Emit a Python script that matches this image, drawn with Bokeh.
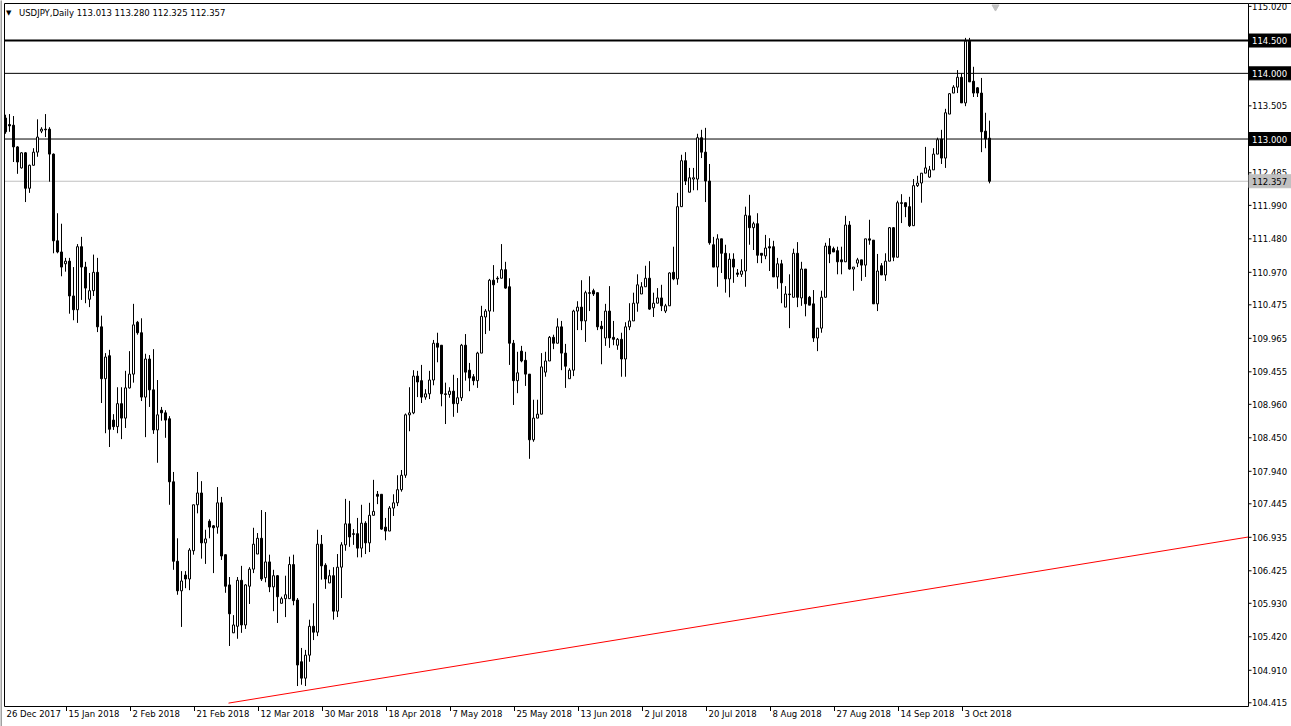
from bokeh.plotting import figure
from bokeh.models import Range1d, ColumnDataSource
from bokeh.core.properties import value
from bokeh.embed import file_html
from bokeh.resources import INLINE

symbol_title = "USDJPY,Daily"
last_ohlc = ["113.013", "113.280", "112.325", "112.357"]

opens = [113.32, 113.22, 113.21, 112.88, 112.56, 112.79, 112.25, 112.60, 112.80, 113.12,
         113.15, 113.15, 112.77, 111.45, 111.28, 111.10, 111.14, 110.61, 110.40, 111.36,
         111.05, 110.56, 110.69, 110.97, 110.14, 109.35, 109.70, 108.72, 108.62, 108.97,
         108.75, 109.21, 109.42, 110.21, 110.05, 109.07, 109.65, 109.18, 108.57, 108.87,
         108.83, 108.74, 107.78, 106.57, 106.12, 106.36, 106.30, 106.73, 107.43, 107.61,
         106.85, 107.18, 107.11, 107.09, 107.46, 106.67, 106.21, 105.48, 105.58, 106.28,
         105.60, 106.19, 106.45, 106.68, 106.92, 106.32, 106.56, 106.18, 106.35, 105.93,
         106.00, 106.00, 106.52, 105.98, 105.04, 104.79, 105.14, 105.58, 105.49, 106.83,
         106.51, 106.24, 106.35, 105.81, 106.48, 106.82, 107.14, 106.99, 106.99, 106.77,
         107.15, 106.85, 107.27, 107.59, 107.59, 107.09, 107.03, 107.38, 107.46, 107.66,
         107.88, 108.80, 108.83, 109.39, 109.32, 109.07, 109.12, 109.33, 109.89, 109.86,
         109.12, 109.11, 109.16, 108.97, 109.06, 109.86, 109.48, 109.38, 109.32, 109.74,
         110.29, 110.38, 110.85, 110.88, 110.88, 111.01, 110.75, 109.89, 109.32, 109.77,
         109.63, 109.42, 108.42, 108.75, 108.81, 109.45, 109.62, 109.98, 109.89, 110.14,
         109.74, 109.35, 109.48, 110.38, 110.44, 110.23, 110.66, 110.69, 110.66, 110.15,
         109.97, 110.38, 109.98, 109.86, 109.95, 109.65, 110.14, 110.23, 110.50, 110.64,
         110.75, 110.88, 110.43, 110.50, 110.58, 110.38, 110.46, 110.97, 110.87, 111.97,
         112.67, 112.19, 112.39, 112.39, 113.02, 112.80, 112.36, 111.39, 111.05, 111.48,
         111.26, 110.87, 111.17, 110.96, 110.94, 110.99, 111.83, 111.65, 111.71, 111.26,
         111.22, 111.36, 111.36, 110.90, 111.10, 110.44, 110.64, 110.59, 111.26, 110.58,
         111.02, 110.59, 110.49, 109.97, 110.12, 110.59, 111.37, 111.33, 111.30, 111.16,
         111.13, 111.69, 111.02, 111.11, 111.16, 111.08, 111.48, 111.46, 110.49, 111.07,
         110.93, 111.14, 111.65, 111.20, 112.03, 112.03, 111.97, 111.68, 112.29, 112.33,
         112.48, 112.42, 112.53, 112.77, 113.00, 112.71, 113.38, 113.70, 113.79, 113.94,
         113.55, 114.49, 113.88, 113.78, 113.70, 113.12, 113.013]

highs = [113.37, 113.38, 113.35, 112.89, 112.80, 112.80, 112.61, 112.86, 113.30, 113.18,
         113.38, 113.18, 112.78, 111.87, 111.71, 111.19, 111.19, 111.05, 111.40, 111.51,
         111.13, 110.96, 111.24, 111.19, 110.31, 109.74, 109.79, 108.81, 109.22, 109.22,
         109.47, 109.77, 110.49, 110.23, 110.27, 109.73, 109.71, 109.80, 109.33, 108.92,
         108.87, 108.78, 107.93, 106.92, 106.42, 106.42, 106.77, 107.43, 107.93, 107.79,
         107.05, 107.21, 107.12, 107.70, 107.55, 106.67, 106.33, 105.75, 106.33, 106.50,
         106.22, 106.48, 107.08, 107.00, 107.35, 107.32, 106.67, 106.44, 106.36, 106.03,
         106.35, 106.64, 106.67, 106.01, 105.25, 105.22, 105.68, 105.93, 107.05, 106.97,
         106.54, 106.44, 106.48, 106.68, 106.86, 107.52, 107.49, 107.06, 107.23, 107.43,
         107.18, 107.46, 107.81, 107.64, 107.59, 107.23, 107.41, 107.59, 107.88, 107.96,
         108.82, 109.22, 109.48, 109.47, 109.56, 109.19, 109.47, 109.94, 110.05, 109.86,
         109.29, 109.22, 109.41, 109.36, 109.88, 110.03, 109.59, 109.42, 109.76, 110.46,
         110.41, 110.87, 111.08, 110.91, 111.40, 111.13, 110.88, 109.94, 109.76, 109.85,
         109.76, 109.42, 109.03, 109.03, 109.74, 109.76, 110.00, 110.02, 110.27, 110.23,
         109.88, 109.51, 110.40, 110.53, 110.85, 110.69, 110.91, 110.72, 110.66, 110.23,
         110.49, 110.76, 110.23, 109.97, 110.05, 110.21, 110.50, 110.66, 110.94, 110.82,
         111.07, 111.14, 110.66, 110.73, 110.78, 110.49, 110.97, 111.36, 112.18, 112.76,
         112.80, 112.56, 112.56, 113.08, 113.14, 113.17, 112.62, 111.51, 111.55, 111.48,
         111.39, 111.26, 111.26, 111.02, 111.17, 111.97, 112.15, 111.74, 111.87, 111.26,
         111.54, 111.49, 111.45, 111.19, 111.16, 110.76, 110.94, 111.33, 111.43, 111.13,
         111.02, 110.61, 110.70, 110.12, 110.69, 111.42, 111.49, 111.36, 111.36, 111.36,
         111.83, 111.75, 111.05, 111.19, 111.16, 111.48, 111.77, 111.46, 111.25, 111.11,
         111.26, 111.66, 111.66, 112.06, 112.16, 112.03, 112.12, 112.39, 112.44, 112.48,
         112.88, 112.59, 112.86, 113.02, 113.14, 113.46, 113.70, 113.82, 114.05, 114.00,
         114.54, 114.54, 114.10, 113.79, 113.93, 113.40, 113.280]

lows = [113.08, 113.11, 112.65, 112.47, 112.55, 112.04, 112.18, 112.60, 112.73, 113.09,
        113.03, 112.35, 111.26, 111.26, 110.91, 110.98, 110.34, 110.24, 110.20, 110.55,
        110.50, 110.44, 110.61, 110.06, 108.98, 108.52, 108.31, 108.57, 108.52, 108.43,
        108.60, 109.20, 109.29, 110.02, 109.01, 108.46, 108.92, 108.51, 108.07, 108.71,
        108.45, 107.43, 106.44, 106.06, 105.57, 106.16, 106.13, 106.67, 107.30, 106.61,
        106.53, 106.92, 106.39, 106.99, 106.59, 106.09, 105.28, 105.48, 105.39, 105.48,
        105.54, 105.92, 106.39, 106.68, 106.27, 106.25, 106.10, 105.81, 105.63, 105.93,
        105.72, 106.00, 105.90, 104.67, 104.69, 104.67, 105.04, 105.37, 105.43, 106.29,
        106.15, 106.24, 105.68, 105.72, 106.01, 106.73, 106.79, 106.82, 106.63, 106.63,
        106.68, 106.71, 107.27, 107.44, 107.05, 106.89, 107.03, 107.26, 107.41, 107.63,
        107.84, 108.55, 108.81, 109.07, 108.98, 109.03, 109.04, 109.25, 109.60, 108.93,
        108.66, 109.06, 108.77, 108.83, 109.01, 109.32, 109.16, 109.25, 109.21, 109.74,
        110.03, 110.08, 110.37, 110.81, 110.88, 110.72, 109.56, 108.95, 109.13, 109.60,
        109.24, 108.13, 108.39, 108.75, 108.81, 109.38, 109.62, 109.80, 109.89, 109.48,
        109.21, 109.35, 109.39, 110.09, 110.09, 109.91, 110.38, 110.61, 110.09, 109.57,
        109.85, 109.82, 109.86, 109.79, 109.38, 109.38, 110.09, 110.23, 110.37, 110.64,
        110.75, 110.40, 110.29, 110.50, 110.38, 110.35, 110.46, 110.85, 110.78, 111.97,
        112.30, 112.19, 112.22, 112.22, 112.71, 112.04, 111.39, 111.05, 110.75, 110.96,
        110.66, 110.59, 110.81, 110.90, 110.90, 110.75, 111.39, 111.31, 111.11, 111.11,
        111.17, 110.99, 110.90, 110.72, 110.50, 110.44, 110.12, 110.59, 110.44, 110.46,
        110.30, 110.47, 109.91, 109.77, 110.05, 110.59, 111.11, 111.28, 110.94, 110.94,
        111.13, 111.01, 110.69, 111.05, 110.84, 110.90, 111.39, 110.49, 110.38, 110.93,
        110.84, 111.14, 111.14, 111.20, 111.72, 111.81, 111.66, 111.68, 112.27, 112.03,
        112.48, 112.41, 112.53, 112.77, 112.62, 112.56, 113.38, 113.70, 113.70, 113.55,
        113.50, 113.87, 113.64, 113.64, 112.80, 112.86, 112.325]

closes = [113.11, 113.20, 112.88, 112.65, 112.79, 112.25, 112.60, 112.80, 113.03, 113.15,
          113.14, 112.77, 111.45, 111.28, 111.05, 111.14, 110.61, 110.40, 111.36, 111.05,
          110.73, 110.69, 110.97, 110.14, 109.35, 109.68, 108.58, 108.62, 108.97, 108.75,
          109.21, 109.42, 110.17, 110.05, 109.07, 109.65, 109.18, 108.57, 108.80, 108.83,
          108.72, 107.78, 106.57, 106.12, 106.27, 106.30, 106.74, 107.43, 107.61, 106.85,
          106.91, 107.09, 107.08, 107.46, 106.65, 106.19, 105.77, 105.60, 106.28, 105.60,
          106.21, 106.45, 106.83, 106.92, 106.30, 106.56, 106.18, 106.35, 106.03, 106.00,
          106.06, 106.52, 105.97, 104.99, 104.79, 105.14, 105.58, 105.49, 106.83, 106.50,
          106.30, 106.35, 105.81, 106.48, 106.82, 107.14, 106.94, 106.98, 106.77, 107.15,
          106.85, 107.27, 107.33, 107.56, 107.06, 107.03, 107.38, 107.46, 107.66, 107.88,
          108.80, 108.83, 109.39, 109.30, 109.07, 109.12, 109.33, 109.89, 109.83, 109.12,
          109.11, 109.16, 108.97, 109.06, 109.86, 109.45, 109.36, 109.32, 109.74, 110.30,
          110.38, 110.85, 110.78, 110.87, 111.01, 110.73, 109.89, 109.32, 109.44, 109.62,
          109.42, 108.42, 108.75, 108.81, 109.53, 109.62, 109.98, 109.89, 110.14, 109.74,
          109.54, 109.48, 110.38, 110.44, 110.23, 110.66, 110.65, 110.64, 110.14, 110.11,
          110.38, 109.97, 109.95, 109.95, 109.65, 110.14, 110.23, 110.50, 110.78, 110.75,
          110.88, 110.41, 110.50, 110.58, 110.46, 110.46, 110.96, 110.87, 111.97, 112.67,
          112.36, 112.41, 112.41, 113.02, 112.80, 112.36, 111.42, 111.05, 111.48, 111.26,
          110.87, 111.17, 111.05, 110.94, 110.99, 111.84, 111.65, 111.71, 111.23, 111.23,
          111.34, 111.34, 110.90, 111.10, 110.81, 110.64, 110.63, 111.26, 110.59, 111.02,
          110.49, 110.47, 109.97, 110.12, 110.59, 111.37, 111.25, 111.28, 111.13, 111.13,
          111.69, 111.02, 111.05, 111.16, 111.08, 111.48, 111.46, 110.49, 110.99, 110.93,
          111.14, 111.65, 111.20, 112.03, 112.02, 111.97, 111.68, 112.29, 112.33, 112.48,
          112.56, 112.53, 112.77, 112.99, 112.71, 113.40, 113.69, 113.79, 113.94, 113.55,
          114.49, 113.87, 113.70, 113.70, 113.11, 113.00, 112.357]

date_labels = ["26 Dec 2017", "15 Jan 2018", "2 Feb 2018", "21 Feb 2018", "12 Mar 2018",
               "30 Mar 2018", "18 Apr 2018", "7 May 2018", "25 May 2018", "13 Jun 2018",
               "2 Jul 2018", "20 Jul 2018", "8 Aug 2018", "27 Aug 2018", "14 Sep 2018",
               "3 Oct 2018"]
date_label_bars = [-0.25, 15.25, 31.25, 47.25, 63.25, 79.25, 95.25, 111.25, 127.25, 143.25,
                   159.25, 175.25, 191.25, 207.25, 223.25, 239.25]

price_ticks = [115.020, 113.505, 112.485, 111.990, 111.480, 110.970, 110.475, 109.965,
               109.455, 108.960, 108.450, 107.940, 107.445, 106.935, 106.425, 105.930,
               105.420, 104.910, 104.415]
level_prices = [114.5, 114.0, 113.0]
level_widths = [2, 1, 1]
bid_price = 112.357
trend_bars = [55.75, 310.75]
trend_prices = [104.41, 106.94]
shift_marker_bar = [247.5]

# ---- layout (pixel geometry of the MetaTrader window) ----
W, H = 1291, 726
BAR0_PX, BAR_PX = 5.5, 4.0          # screen x of bar 0, spacing per bar
PRICE_AT_TOP, PRICE_PER_PX = 115.117, 0.015228
SHIFT = 0.5                          # renderer half-pixel offset compensation
CH_L, CH_R, CH_T, CH_B = 4.5, 1248.5, 3.5, 706.5   # chart frame lines
FONT = "DejaVu Sans"
FS = "8.5px"


def xd(px):
    return (px - BAR0_PX) / BAR_PX


def yd(py):
    return PRICE_AT_TOP - PRICE_PER_PX * py


p = figure(width=W, height=H, output_backend="svg", toolbar_location=None,
           x_range=Range1d(xd(SHIFT), xd(W + SHIFT)), y_range=Range1d(yd(H + SHIFT), yd(SHIFT)),
           x_axis_location=None, y_axis_location=None, min_border=0)
p.min_border_left = p.min_border_right = p.min_border_top = p.min_border_bottom = 0
p.outline_line_color = None
p.background_fill_color = "white"
p.border_fill_color = "white"
p.grid.visible = False

xl, xr, yt, yb = xd(CH_L), xd(CH_R), yd(CH_T), yd(CH_B)

# window edge on the left
p.quad(left=[xd(0)], right=[xd(2)], top=[yd(0)], bottom=[yd(H)],
       fill_color="#a0a0a0", line_color=None)

# horizontal levels and bid line (behind candles)
p.segment(x0=[xl], y0=[bid_price], x1=[xr], y1=[bid_price], line_color="#c0c0c0", line_width=1)
for lv, lw in zip(level_prices, level_widths):
    p.segment(x0=[xl], y0=[lv], x1=[xr], y1=[lv], line_color="black", line_width=lw)

# trend line
p.line(trend_bars, trend_prices, line_color="#ff0000", line_width=1)

# candles
n = len(opens)
idx = list(range(n))
src = ColumnDataSource(dict(
    x=idx, o=opens, h=highs, l=lows, c=closes,
    top=[max(o, c) for o, c in zip(opens, closes)],
    bottom=[min(o, c) for o, c in zip(opens, closes)],
    fill=["white" if c >= o else "black" for o, c in zip(opens, closes)],
))
p.segment(x0="x", y0="h", x1="x", y1="l", source=src, line_color="black", line_width=1)
p.vbar(x="x", width=0.5, top="top", bottom="bottom", fill_color="fill",
       line_color="black", line_width=1, source=src)

# chart frame
p.segment(x0=[xl, xl, xl, xr], y0=[yt, yb, yt, yt], x1=[xr, xr, xl, xr], y1=[yt, yb, yb, yb],
          line_color="black", line_width=1)
p.segment(x0=[xr], y0=[yt], x1=[xd(W)], y1=[yt], line_color="black", line_width=1)

# price scale: ticks and labels
p.segment(x0=[xr] * len(price_ticks), y0=price_ticks,
          x1=[xd(1251.5)] * len(price_ticks), y1=price_ticks, line_color="black", line_width=1)
p.text(x=[xd(1252)] * len(price_ticks), y=price_ticks, text=["%.3f" % t for t in price_ticks],
       text_font=value(FONT), text_font_size=FS, text_align="left", text_baseline="middle",
       text_color="black")

# highlighted level prices on the scale
box_prices = level_prices + [bid_price]
box_fill = ["black"] * len(level_prices) + ["#c0c0c0"]
box_text = ["white"] * len(level_prices) + ["black"]
p.rect(x=[xd(1270)] * len(box_prices), y=box_prices, width=42, height=13,
       width_units="screen", height_units="screen", fill_color=box_fill,
       line_color=box_fill)
p.text(x=[xd(1252)] * len(box_prices), y=box_prices, text=["%.3f" % b for b in box_prices],
       text_font=value(FONT), text_font_size=FS, text_align="left", text_baseline="middle",
       text_color=box_text)

# time scale: ticks and labels
tick_bars = date_label_bars[1:]
p.segment(x0=tick_bars, y0=[yb] * len(tick_bars), x1=tick_bars, y1=[yd(711)] * len(tick_bars),
          line_color="black", line_width=1)
p.text(x=date_label_bars, y=[yd(714)] * len(date_labels), text=date_labels, x_offset=2,
       text_font=value(FONT), text_font_size=FS, text_align="left", text_baseline="middle",
       text_color="black")

# chart shift marker
p.scatter(shift_marker_bar, [yd(7)], marker="inverted_triangle", size=7,
          fill_color="#c0c0c0", line_color="#c0c0c0")

# title
p.text(x=[xd(6)], y=[yd(13)], text=["\u25BC"], text_font=value(FONT), text_font_size="7px",
       text_align="left", text_baseline="middle", text_color="black")
p.text(x=[xd(19)], y=[yd(13)], text=[symbol_title + "  " + " ".join(last_ohlc)],
       text_font=value(FONT), text_font_size=FS, text_align="left", text_baseline="middle",
       text_color="black")

open("out.html", "w").write(file_html(p, INLINE))
